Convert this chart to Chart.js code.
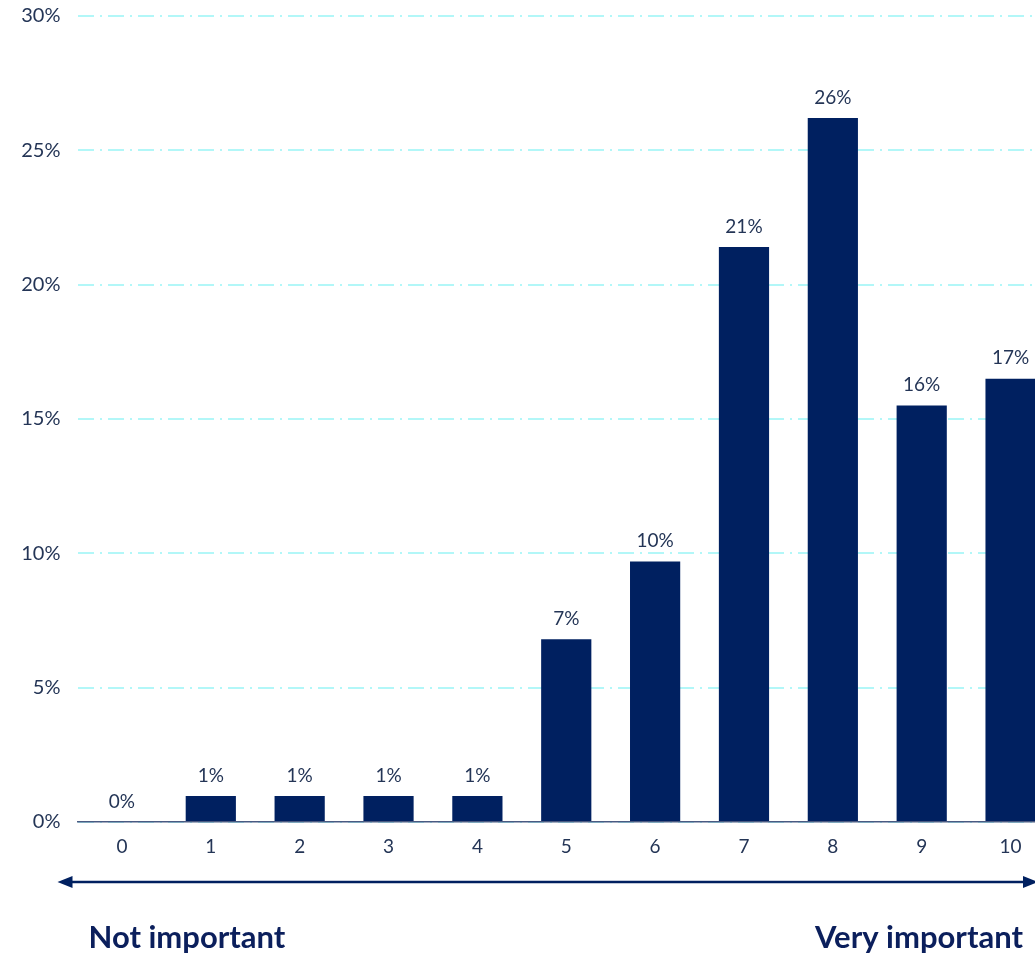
<!DOCTYPE html>
<html>
<head>
<meta charset="utf-8">
<script src="https://cdn.jsdelivr.net/npm/chart.js@4.4.1/dist/chart.umd.min.js"></script>
<style>
  html, body { margin: 0; padding: 0; background: #fff; overflow: hidden; }
  #wrap { position: relative; top: -13px; width: 1056px; height: 967px; }
</style>
</head>
<body>
<div id="wrap"><canvas id="chart"></canvas></div>
<script>
  const scores = ['0', '1', '2', '3', '4', '5', '6', '7', '8', '9', '10'];
  const shares = [0, 0.97, 0.97, 0.97, 0.97, 6.8, 9.7, 21.4, 26.2, 15.5, 16.5];
  const yTicks = [0, 5, 10, 15, 20, 25, 30];
  const leftCaption = 'Not important';
  const rightCaption = 'Very important';

  const navy = '#002060';
  const textColor = '#243556';
  const fontFamily = 'Lato, "Open Sans", sans-serif';

  // value labels above each bar
  const barLabels = {
    id: 'barLabels',
    afterDatasetsDraw(chart) {
      const ctx = chart.ctx;
      const meta = chart.getDatasetMeta(0);
      ctx.save();
      ctx.font = '19px ' + fontFamily;
      ctx.fillStyle = textColor;
      ctx.textAlign = 'center';
      ctx.textBaseline = 'bottom';
      meta.data.forEach((bar, i) => {
        ctx.fillText(Math.round(shares[i]) + '%', bar.x, bar.y - 11);
      });
      ctx.restore();
    }
  };

  // double-headed arrow with the scale captions underneath
  const scaleArrow = {
    id: 'scaleArrow',
    afterDraw(chart) {
      const ctx = chart.ctx;
      const area = chart.chartArea;
      const y = area.bottom + 60;
      const x0 = area.left - 20;
      const x1 = area.right - 17;
      ctx.save();
      ctx.strokeStyle = navy;
      ctx.fillStyle = navy;
      ctx.lineWidth = 2.5;
      ctx.beginPath();
      ctx.moveTo(x0 + 10, y);
      ctx.lineTo(x1 - 10, y);
      ctx.stroke();
      ctx.beginPath();
      ctx.moveTo(x0, y);
      ctx.lineTo(x0 + 15, y - 6);
      ctx.lineTo(x0 + 15, y + 6);
      ctx.closePath();
      ctx.fill();
      ctx.beginPath();
      ctx.moveTo(x1, y);
      ctx.lineTo(x1 - 15, y - 6);
      ctx.lineTo(x1 - 15, y + 6);
      ctx.closePath();
      ctx.fill();

      ctx.font = 'bold 31px ' + fontFamily;
      ctx.fillStyle = '#0b1f5c';
      ctx.textBaseline = 'alphabetic';
      ctx.textAlign = 'left';
      ctx.fillText(leftCaption, area.left + 11, y + 66);
      ctx.textAlign = 'right';
      ctx.fillText(rightCaption, 1023, y + 66);
      ctx.restore();
    }
  };

  new Chart(document.getElementById('chart'), {
    type: 'bar',
    data: {
      labels: scores,
      datasets: [{
        data: shares,
        backgroundColor: navy,
        barPercentage: 0.565,
        categoryPercentage: 1
      }]
    },
    options: {
      responsive: true,
      maintainAspectRatio: false,
      animation: false,
      layout: { padding: { top: 3, right: 1, left: 0, bottom: 0 } },
      plugins: { legend: { display: false }, tooltip: { enabled: false } },
      scales: {
        x: {
          grid: { display: false },
          border: { display: true, color: '#4a5a82', width: 1.5 },
          ticks: { color: textColor, font: { family: fontFamily, size: 19 }, padding: 5 },
          afterFit: scale => { scale.height = 132; }
        },
        y: {
          min: 0,
          max: 30,
          afterBuildTicks: scale => { scale.ticks = yTicks.map(v => ({ value: v })); },
          afterFit: scale => { scale.width = 77.5; },
          border: { display: false, dash: [16, 6, 2, 6] },
          grid: { color: '#b2f7f8', lineWidth: 2, drawTicks: false },
          ticks: {
            color: textColor,
            font: { family: fontFamily, size: 20 },
            padding: 17,
            callback: v => v + '%'
          }
        }
      }
    },
    plugins: [barLabels, scaleArrow]
  });
</script>
</body>
</html>
